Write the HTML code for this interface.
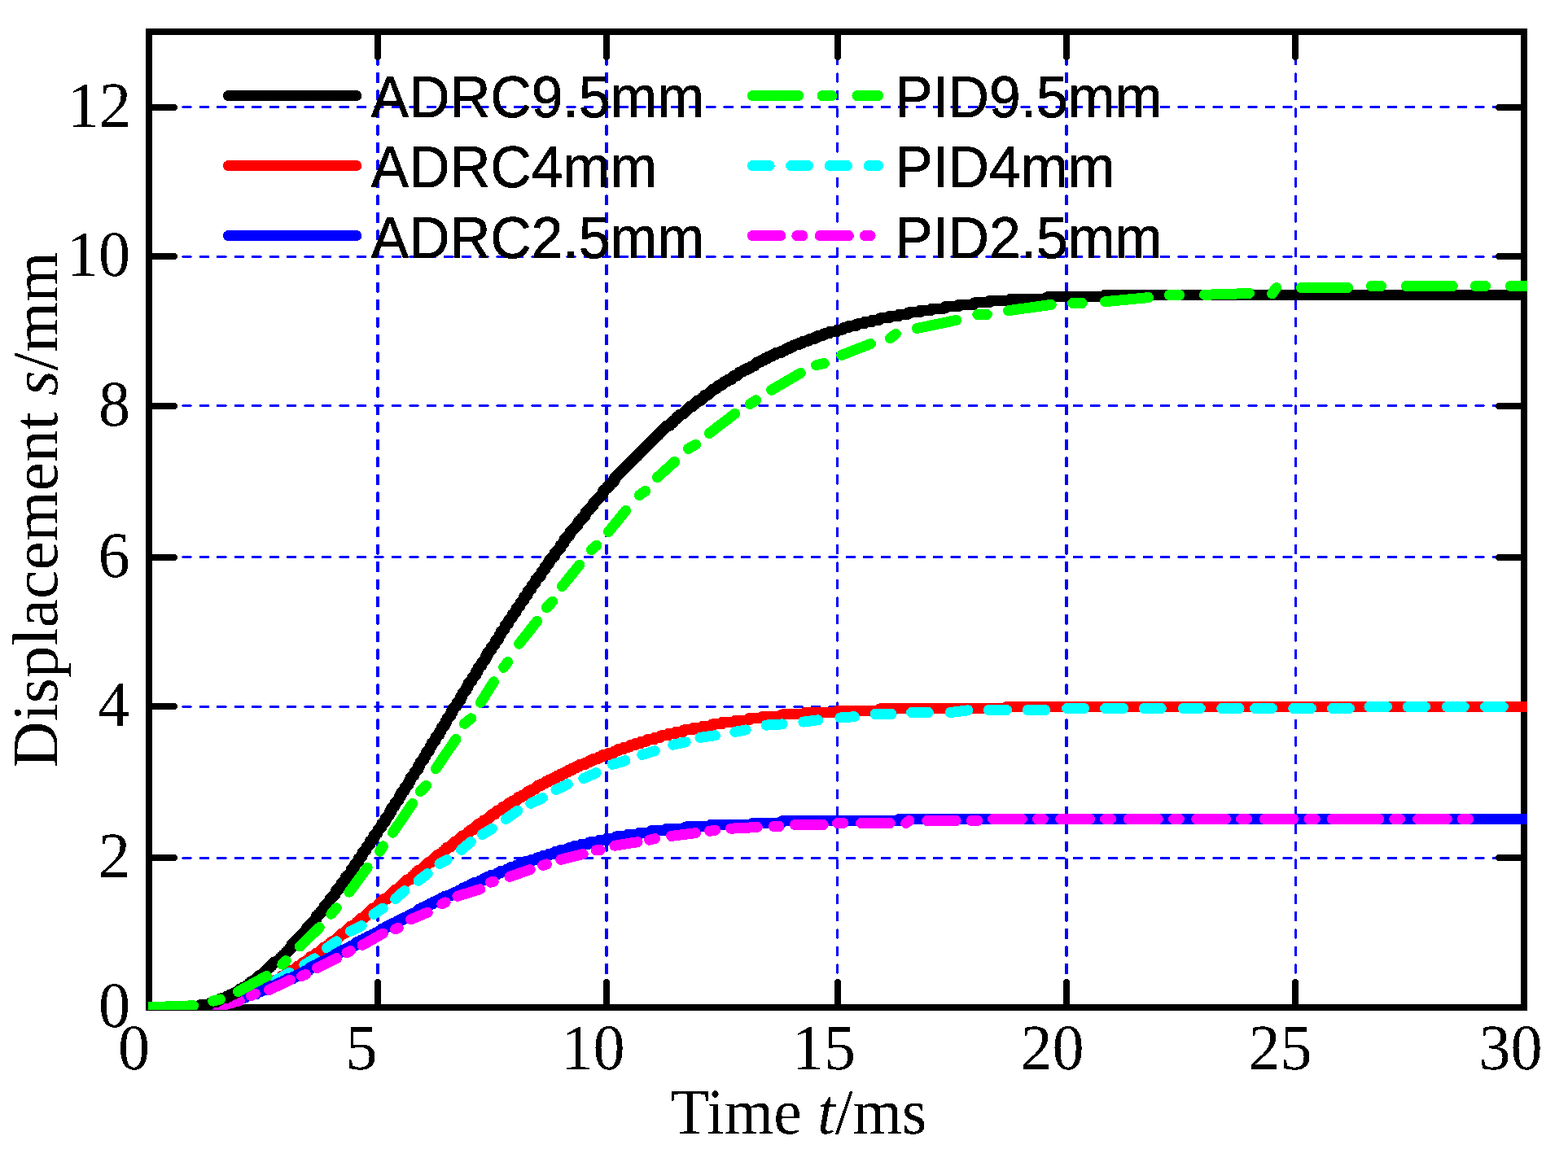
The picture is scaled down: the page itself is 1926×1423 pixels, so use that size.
<!DOCTYPE html>
<html lang="en"><head><meta charset="utf-8"><title>Displacement vs time</title>
<style>html,body{margin:0;padding:0;background:#fff;overflow:hidden}svg{display:block}</style></head>
<body>
<svg width="1926" height="1423" viewBox="0 0 1926 1423" role="img" aria-label="Displacement versus time for ADRC and PID control">
<rect width="1926" height="1423" fill="#fff"/>
<defs><filter id="bw" x="-5%" y="-5%" width="110%" height="110%" color-interpolation-filters="sRGB"><feComponentTransfer><feFuncA type="discrete" tableValues="0 1"/></feComponentTransfer></filter><clipPath id="cp"><rect x="182" y="35" width="1694" height="1206"/></clipPath></defs>
<path d="M181.8 131.5 H1868" stroke="#0000ff" stroke-width="3" fill="none" shape-rendering="crispEdges" stroke-linecap="round" stroke-dasharray="9.5 11.96" stroke-dashoffset="0"/>
<path d="M181.8 315.5 H1868" stroke="#0000ff" stroke-width="3" fill="none" shape-rendering="crispEdges" stroke-linecap="round" stroke-dasharray="9.5 11.96" stroke-dashoffset="0"/>
<path d="M181.8 498.5 H1868" stroke="#0000ff" stroke-width="3" fill="none" shape-rendering="crispEdges" stroke-linecap="round" stroke-dasharray="9.5 11.96" stroke-dashoffset="0"/>
<path d="M181.8 684.5 H1868" stroke="#0000ff" stroke-width="3" fill="none" shape-rendering="crispEdges" stroke-linecap="round" stroke-dasharray="9.5 11.96" stroke-dashoffset="0"/>
<path d="M181.8 868.5 H1868" stroke="#0000ff" stroke-width="3" fill="none" shape-rendering="crispEdges" stroke-linecap="round" stroke-dasharray="9.5 11.96" stroke-dashoffset="0"/>
<path d="M181.8 1054.5 H1868" stroke="#0000ff" stroke-width="3" fill="none" shape-rendering="crispEdges" stroke-linecap="round" stroke-dasharray="9.5 11.96" stroke-dashoffset="0"/>
<path d="M464 1238.2 V43" stroke="#0000ff" stroke-width="4" fill="none" shape-rendering="crispEdges" stroke-linecap="round" stroke-dasharray="9.5 11.97" stroke-dashoffset="0"/>
<path d="M745 1238.2 V43" stroke="#0000ff" stroke-width="4" fill="none" shape-rendering="crispEdges" stroke-linecap="round" stroke-dasharray="9.5 11.97" stroke-dashoffset="0"/>
<path d="M1028.5 1238.2 V43" stroke="#0000ff" stroke-width="3" fill="none" shape-rendering="crispEdges" stroke-linecap="round" stroke-dasharray="9.5 11.97" stroke-dashoffset="0"/>
<path d="M1310 1238.2 V43" stroke="#0000ff" stroke-width="4" fill="none" shape-rendering="crispEdges" stroke-linecap="round" stroke-dasharray="9.5 11.97" stroke-dashoffset="0"/>
<path d="M1591.5 1238.2 V43" stroke="#0000ff" stroke-width="3" fill="none" shape-rendering="crispEdges" stroke-linecap="round" stroke-dasharray="9.5 11.97" stroke-dashoffset="0"/>
<g stroke="#000" stroke-width="8" fill="none" shape-rendering="crispEdges">
<rect x="183.0" y="39.0" width="1689.0" height="1199.0"/>
</g>
<g stroke="#000" stroke-width="8" fill="none" stroke-linecap="round" shape-rendering="crispEdges">
<path d="M183.0 132 h31 M1872.0 132 h-31 M183.0 315 h31 M1872.0 315 h-31 M183.0 499 h31 M1872.0 499 h-31 M183.0 685 h31 M1872.0 685 h-31 M183.0 868 h31 M1872.0 868 h-31 M183.0 1054 h31 M1872.0 1054 h-31 M464 39.0 v31 M464 1238.0 v-31 M745 39.0 v31 M745 1238.0 v-31 M1029 39.0 v31 M1029 1238.0 v-31 M1310 39.0 v31 M1310 1238.0 v-31 M1591 39.0 v31 M1591 1238.0 v-31"/>
</g>
<g clip-path="url(#cp)" fill="none" stroke-linejoin="round" stroke-linecap="round" shape-rendering="crispEdges" stroke-width="13">
<path stroke="#ff0000" stroke-linecap="butt" d="M183 1238H260.95V1234.61H270.39V1232.25H277.48V1229.89H284.57V1227.52H291.65V1225.16H296.38V1222.8H301.1V1220.44H308.19V1218.08H312.91V1215.71H320V1213.35H324.72V1210.99H329.44V1208.63H334.17V1206.27H338.89V1203.9H343.62V1201.54H345.98V1199.18H350.7V1196.82H355.43V1194.46H357.79V1192.09H362.51V1189.73H364.87V1187.37H369.6V1185.01H371.96V1182.65H376.68V1180.28H379.05V1177.92H381.41V1175.56H386.13V1173.2H388.49V1170.84H393.22V1168.47H395.58V1166.11H397.94V1163.75H402.67V1161.39H405.03V1159.03H407.39V1156.66H412.11V1154.3H414.48V1151.94H416.84V1149.58H419.2V1147.22H423.92V1144.85H426.29V1142.49H428.65V1140.13H431.01V1137.77H435.73V1135.41H438.1V1133.04H440.46V1130.68H442.82V1128.32H447.54V1125.96H449.91V1123.6H452.27V1121.23H454.63V1118.87H456.99V1116.51H461.72V1114.15H464.08V1111.79H466.44V1109.42H468.8V1107.06H471.16V1104.7H475.89V1102.34H478.25V1099.98H480.61V1097.61H482.97V1095.25H485.34V1092.89H490.06V1090.53H492.42V1088.17H494.78V1085.8H497.15V1083.44H499.51V1081.08H504.23V1078.72H506.59V1076.36H508.96V1073.99H511.32V1071.63H513.68V1069.27H518.4V1066.91H520.77V1064.55H523.13V1062.18H525.49V1059.82H530.21V1057.46H532.58V1055.1H534.94V1052.74H537.3V1050.37H542.02V1048.01H544.39V1045.65H546.75V1043.29H549.11V1040.93H553.83V1038.56H556.2V1036.2H558.56V1033.84H563.28V1031.48H565.64V1029.12H568.01V1026.75H572.73V1024.39H575.09V1022.03H577.45V1019.67H582.18V1017.31H584.54V1014.94H586.9V1012.58H591.63V1010.22H593.99V1007.86H598.71V1005.5H601.07V1003.13H603.44V1000.77H608.16V998.41H610.52V996.05H615.25V993.69H617.61V991.32H622.33V988.96H624.69V986.6H629.42V984.24H634.14V981.88H636.5V979.51H641.23V977.15H645.95V974.79H648.31V972.43H653.04V970.07H657.76V967.7H660.12V965.34H664.85V962.98H669.57V960.62H674.3V958.26H679.02V955.89H683.74V953.53H688.47V951.17H693.19V948.81H697.92V946.45H702.64V944.08H707.36V941.72H712.09V939.36H719.17V937H723.9V934.64H728.62V932.27H735.71V929.91H740.43V927.55H747.52V925.19H754.6V922.83H759.33V920.46H766.41V918.1H773.5V915.74H780.59V913.38H787.67V911.02H794.76V908.65H804.21V906.29H811.29V903.93H820.74V901.57H830.19V899.21H839.64V896.84H851.45V894.48H863.26V892.12H875.07V889.76H886.88V887.4H903.41V885.03H919.94V882.67H936.48V880.31H960.1V877.95H988.44V875.59H1028.6V873.22H1080.56V870.86H1236.45V868.5H1878.92"/>
<path stroke="#00ffff" d="M183 1238L204 1238M230.5 1238.5L250 1238.5M274 1234.3L289 1228.6M307.3 1220.4L321.3 1213.4M339 1204.5L355.5 1195.3M373.8 1185.5L386.6 1177.9M401.7 1164.9L413.5 1156.8M430.5 1144.3L444.2 1137.6M459 1123.4L470.2 1116.1M485.6 1104.5L497 1094.6M514 1082.3L525.2 1073.7M540 1061.4L549.3 1056.6M566.6 1044.4L578.4 1034.5M592.5 1025.4L604.5 1018.2M621.4 1006.5L635.8 996.2M651.9 987.4L666.4 980.5M683 970.4L697.3 963.7M716.9 956.5L732.1 949.8M752.3 939.3L767.9 934.8M788.7 927.5L804.2 922.8M826.8 915.2L842.1 911.9M860 906.4L878.3 903.8M902.8 899.4L916.1 896.9M941 891.1L961.1 889.9M986.8 887.1L1004.7 884.8M1031.9 882L1049.4 880.7M1075 877.5L1095.2 877.5M1119.6 875.5L1140.3 875.5M1167.2 875.6L1188.9 872.8M1214.4 872.5L1236.5 872.5M1262.4 872.5L1283.8 872.5M1310.6 870.5L1331.6 870.5M1357.6 870.5L1379.7 870.5M1405.5 870.5L1426.3 870.5M1453.4 870.5L1474.4 870.5M1500.7 870.5L1522.2 870.5M1541.6 870.5L1562.5 870.5M1588.8 870.5L1610.5 870.5M1636.6 870.5L1657.5 870.5M1681.9 868.5L1703.5 868.5M1729.5 868.5L1750.5 868.5M1777.3 868.5L1798.4 868.5M1824.6 868.5L1846.4 868.5"/>
<path stroke="#0000ff" stroke-linecap="butt" d="M183 1238H263.31V1235.61H275.12V1233.25H282.2V1230.89H289.29V1228.53H294.01V1226.17H301.1V1223.8H308.19V1221.44H315.27V1219.08H320V1216.72H327.08V1214.36H331.81V1211.99H338.89V1209.63H343.62V1207.27H348.34V1204.91H353.06V1202.55H360.15V1200.18H364.87V1197.82H369.6V1195.46H374.32V1193.1H379.05V1190.74H381.41V1188.37H386.13V1186.01H390.86V1183.65H395.58V1181.29H400.3V1178.93H405.03V1176.56H409.75V1174.2H412.11V1171.84H416.84V1169.48H421.56V1167.12H426.29V1164.75H431.01V1162.39H435.73V1160.03H438.1V1157.67H442.82V1155.31H447.54V1152.94H452.27V1150.58H456.99V1148.22H461.72V1145.86H466.44V1143.5H468.8V1141.13H473.53V1138.77H478.25V1136.41H482.97V1134.05H487.7V1131.69H492.42V1129.32H497.15V1126.96H501.87V1124.6H506.59V1122.24H511.32V1119.88H513.68V1117.51H518.4V1115.15H523.13V1112.79H527.85V1110.43H532.58V1108.07H537.3V1105.7H542.02V1103.34H546.75V1100.98H553.83V1098.62H558.56V1096.26H563.28V1093.89H568.01V1091.53H572.73V1089.17H577.45V1086.81H582.18V1084.45H589.26V1082.08H593.99V1079.72H598.71V1077.36H603.44V1075H610.52V1072.64H615.25V1070.27H622.33V1067.91H627.06V1065.55H634.14V1063.19H638.87V1060.83H645.95V1058.46H653.04V1056.1H660.12V1053.74H667.21V1051.38H674.3V1049.02H681.38V1046.65H688.47V1044.29H697.92V1041.93H705V1039.57H714.45V1037.21H723.9V1034.84H735.71V1032.48H745.16V1030.12H756.97V1027.76H771.14V1025.4H785.31V1023.03H799.48V1020.67H818.38V1018.31H842V1015.95H872.7V1013.59H924.67V1011.22H960.1V1008.86H1104.18V1006.5H1878.92"/>
<path stroke="#ff00ff" d="M183 1238L219.6 1238M238.6 1238L245.6 1238M267 1237.3L294.4 1229.6M308.4 1223.5L313.4 1221.1M330.6 1216.4L356.4 1204.3M370.6 1199.5L375.6 1197.4M389.6 1189.4L413.5 1177.6M426 1170.7L430.4 1168.5M445.1 1161.4L470.2 1147.1M485.6 1141.8L489.2 1140.1M504.6 1129.8L525.2 1121.1M542.9 1111L547.1 1108.9M561.9 1101.3L589.7 1092.7M602.6 1084.2L606.2 1083.2M626 1077.3L651.2 1068.6M666.7 1063.3L671.3 1062M688.8 1056.3L716.2 1049.4M732.1 1044.7L737.3 1044.5M755 1039.2L783.1 1034.7M797.6 1032.2L804.5 1030.5M824.6 1027.4L854.4 1023.6M871.6 1021.2L878.4 1020.4M897.7 1018.2L930.2 1016.5M950.5 1015.5L957 1015.5M976.4 1013.5L1011.3 1013.5M1028.6 1011.5L1035.6 1011.5M1057.6 1011.5L1093.3 1011.5M1112.7 1011.5L1116.9 1008.4M1138.8 1008.5L1174.1 1008.5M1193.4 1008.5L1200.7 1008.5M1219.6 1006.5L1255.3 1006.5M1274.6 1006.5L1281.4 1006.5M1302.7 1006.5L1338.7 1006.5M1357.6 1006.5L1364.5 1006.5M1386.4 1006.5L1422.3 1006.5M1441.6 1006.5L1448.4 1006.5M1469.7 1006.5L1505.7 1006.5M1524.6 1006.5L1531.5 1006.5M1553.4 1006.5L1588.6 1006.5M1608 1006.5L1615.3 1006.5M1636.5 1006.5L1693.6 1006.5M1712.8 1006.5L1719.5 1006.5M1741.6 1006.5L1777.3 1006.5M1796.5 1006.5L1803.6 1006.5"/>
<path stroke="#000" stroke-linecap="butt" d="M183 1238H223.15V1238H246.77V1234.08H258.58V1231.72H265.67V1229.35H270.39V1226.99H277.48V1224.63H282.2V1222.27H286.93V1219.91H291.65V1217.54H294.01V1215.18H298.74V1212.82H303.46V1210.46H305.82V1208.1H308.19V1205.73H312.91V1203.37H315.27V1201.01H317.63V1198.65H322.36V1196.29H324.72V1193.92H327.08V1191.56H329.44V1189.2H331.81V1186.84H334.17V1184.48H336.53V1182.11H341.25V1179.75H343.62V1177.39H345.98V1175.03H348.34V1172.67H350.7V1170.3H353.06V1167.94H355.43V1165.58H357.79V1160.86H360.15V1158.49H362.51V1156.13H364.87V1153.77H367.24V1151.41H369.6V1149.05H371.96V1146.68H374.32V1144.32H376.68V1139.6H379.05V1137.24H381.41V1134.87H383.77V1132.51H386.13V1130.15H388.49V1125.43H390.86V1123.06H393.22V1120.7H395.58V1118.34H397.94V1113.62H400.3V1111.25H402.67V1108.89H405.03V1104.17H407.39V1101.81H409.75V1099.44H412.11V1094.72H414.48V1092.36H416.84V1090H419.2V1085.27H421.56V1082.91H423.92V1078.19H426.29V1075.82H428.65V1073.46H431.01V1068.74H433.37V1066.38H435.73V1061.65H438.1V1059.29H440.46V1054.57H442.82V1052.2H445.18V1047.48H447.54V1045.12H449.91V1040.39H452.27V1038.03H454.63V1033.31H456.99V1030.95H459.35V1026.22H461.72V1023.86H464.08V1019.14H466.44V1016.77H468.8V1012.05H471.16V1009.69H473.53V1004.96H475.89V1002.6H478.25V997.88H480.61V993.15H482.97V990.79H485.34V986.07H487.7V983.71H490.06V978.98H492.42V974.26H494.78V971.9H497.15V967.17H499.51V964.81H501.87V960.09H504.23V955.36H506.59V953H508.96V948.28H511.32V945.91H513.68V941.19H516.04V936.47H518.4V934.1H520.77V929.38H523.13V924.66H525.49V922.29H527.85V917.57H530.21V912.85H532.58V910.48H534.94V905.76H537.3V903.4H539.66V898.67H542.02V893.95H544.39V891.59H546.75V886.86H549.11V882.14H551.47V879.78H553.83V875.05H556.2V870.33H558.56V867.97H560.92V863.24H563.28V860.88H565.64V856.16H568.01V851.43H570.37V849.07H572.73V844.35H575.09V839.62H577.45V837.26H579.82V832.54H582.18V830.18H584.54V825.45H586.9V820.73H589.26V818.37H591.63V813.64H593.99V811.28H596.35V806.56H598.71V801.83H601.07V799.47H603.44V794.75H605.8V792.38H608.16V787.66H610.52V785.3H612.88V780.57H615.25V775.85H617.61V773.49H619.97V768.76H622.33V766.4H624.69V761.68H627.06V759.32H629.42V754.59H631.78V752.23H634.14V747.51H636.5V745.14H638.87V740.42H641.23V738.06H643.59V733.33H645.95V730.97H648.31V726.25H650.68V723.89H653.04V719.16H655.4V716.8H657.76V712.08H660.12V709.71H662.49V707.35H664.85V702.63H667.21V700.27H669.57V695.54H671.93V693.18H674.3V688.46H676.66V686.09H679.02V683.73H681.38V679.01H683.74V676.65H686.11V674.28H688.47V669.56H690.83V667.2H693.19V662.47H695.55V660.11H697.92V657.75H700.28V653.03H702.64V650.66H705V648.3H707.36V645.94H709.73V641.22H712.09V638.85H714.45V636.49H716.81V634.13H719.17V629.41H721.54V627.04H723.9V624.68H726.26V622.32H728.62V617.6H730.98V615.23H733.35V612.87H735.71V610.51H738.07V608.15H740.43V603.42H742.79V601.06H745.16V598.7H747.52V596.34H749.88V593.98H752.24V591.61H754.6V586.89H756.97V584.53H759.33V582.17H761.69V579.8H764.05V577.44H766.41V575.08H768.78V572.72H771.14V570.36H773.5V567.99H775.86V565.63H778.22V563.27H780.59V560.91H782.95V558.55H785.31V556.18H787.67V553.82H790.03V551.46H792.4V549.1H794.76V546.74H797.12V544.37H799.48V542.01H801.84V539.65H804.21V537.29H806.57V534.93H808.93V532.56H811.29V530.2H813.65V527.84H816.02V525.48H818.38V523.12H823.1V520.75H825.46V518.39H827.83V516.03H830.19V513.67H832.55V511.31H834.91V508.94H839.64V506.58H842V504.22H844.36V501.86H846.72V499.5H851.45V497.13H853.81V494.77H856.17V492.41H860.89V490.05H863.26V487.69H865.62V485.32H870.34V482.96H872.7V480.6H875.07V478.24H879.79V475.88H882.15V473.51H886.88V471.15H889.24V468.79H893.96V466.43H898.69V464.07H901.05V461.7H905.77V459.34H908.13V456.98H912.86V454.62H917.58V452.26H922.31V449.89H927.03V447.53H929.39V445.17H934.12V442.81H938.84V440.45H943.56V438.08H948.29V435.72H953.01V433.36H960.1V431H964.82V428.64H969.55V426.27H974.27V423.91H981.36V421.55H986.08V419.19H993.17V416.83H1000.25V414.46H1004.98V412.1H1012.06V409.74H1019.15V407.38H1028.6V405.02H1035.68V402.65H1042.77V400.29H1052.22V397.93H1061.66V395.57H1071.11V393.21H1080.56V390.84H1092.37V388.48H1104.18V386.12H1115.99V383.76H1130.16V381.4H1144.33V379.03H1160.87V376.67H1177.4V374.31H1196.3V371.95H1215.19V369.59H1241.18V367.22H1286.05V364.86H1356.91V362.5H1878.92"/>
<path stroke="#00ff00" d="M183 1237.7L237.5 1235.8M261.5 1230.1L270.4 1228M292.6 1218.5L327.4 1199.5M346.7 1185.2L351.3 1180.6M368.5 1163L392.4 1139.6M406.8 1123.3L413.3 1115.7M429 1096.2L451.2 1066.1M466.6 1046.3L470.4 1039.8M482.4 1023.2L506.7 987.5M516.3 972.6L523.6 965.3M535.3 944.7L559.9 908.4M570.5 889.4L578.7 882.7M590.4 863.4L606.5 837.8M618.6 820.4L623.6 813.5M637.6 791.3L659.6 763.4M671.4 746.6L678.6 739.2M690.5 720.5L711.7 694.3M726.5 675.6L732.8 670.2M747.5 653.5L768.6 627.5M785.4 608.5L792.7 603.4M807.4 586.6L828.6 567.5M845.5 551.4L854.5 546.4M871.3 532.4L902.6 508.5M921.4 496.4L928.6 491.7M947.6 479.3L983.3 458.4M1002.4 448.7L1012.4 446.5M1033.7 436.4L1069.4 422.5M1093.5 415.6L1100.4 410.5M1126.4 403.5L1174.7 393.4M1200.7 386.5L1212.4 386.5M1238.5 381.7L1291.3 374.4M1317.6 372.5L1329.3 372.5M1357.4 370.7L1410.6 365.6M1436.5 362.5L1448.6 362.5M1479.4 362.3L1534.5 360.5M1562.6 360.8L1567.6 353.6M1598.3 353.5L1655.5 353.5M1684.5 351.5L1696.5 351.5M1727.5 351.5L1784.3 351.5M1812.5 351.5L1824.5 351.5M1855.3 351.5L1892 351.5"/>
</g>
<g fill="none" stroke-linecap="round" shape-rendering="crispEdges" stroke-width="13">
<path stroke="#000" d="M280.4 117.6 H437.8"/>
<path stroke="#ff0000" d="M280.4 203.6 H437.8"/>
<path stroke="#0000ff" d="M280.4 289.6 H437.8"/>
<path stroke="#00ff00" d="M924.4 117.6 H980.7 M1010 117.6 H1021.8 M1052.9 117.6 H1078.7"/>
<path stroke="#00ffff" d="M924.4 203.6 H945.2 M971.6 203.6 H992.6 M1019.2 203.6 H1040.4 M1067.2 203.6 H1078.7"/>
<path stroke="#ff00ff" d="M924.4 289.6 H958.8 M978.8 289.6 H985.9 M1007.2 289.6 H1042.4 M1062.4 289.6 H1069.1"/>
</g>
<g fill="#000" stroke="#000" stroke-width="0.6" filter="url(#bw)" font-family="'Liberation Sans', sans-serif" font-size="69.5" text-rendering="geometricPrecision">
<text transform="translate(455.8 143.9) scale(1 1.04)">ADRC9.5mm</text>
<text transform="translate(455.8 230.3) scale(1 1.04)">ADRC4mm</text>
<text transform="translate(455.8 316.5) scale(1 1.04)">ADRC2.5mm</text>
<text transform="translate(1099.2 143.9) scale(1 1.04)">PID9.5mm</text>
<text transform="translate(1099.2 230.3) scale(1 1.04)">PID4mm</text>
<text transform="translate(1099.2 316.5) scale(1 1.04)">PID2.5mm</text>
</g>
<g fill="#000" filter="url(#bw)" font-family="'Liberation Serif', serif" font-size="78.2" text-rendering="geometricPrecision">
<text transform="translate(83 155.9) scale(1 1.02)">12</text>
<text transform="translate(82 338.8) scale(1 1.02)">10</text>
<text transform="translate(121 522.9) scale(1 1.02)">8</text>
<text transform="translate(120.5 708.9) scale(1 1.02)">6</text>
<text transform="translate(120 891.9) scale(1 1.02)">4</text>
<text transform="translate(121 1077.8) scale(1 1.02)">2</text>
<text transform="translate(121 1261.8) scale(1 1.02)">0</text>
<text transform="translate(145 1313.8) scale(1 1.02)">0</text>
<text transform="translate(424.5 1313.8) scale(1 1.02)">5</text>
<text transform="translate(689.5 1313.8) scale(1 1.02)">10</text>
<text transform="translate(973 1313.8) scale(1 1.02)">15</text>
<text transform="translate(1253.5 1313.8) scale(1 1.02)">20</text>
<text transform="translate(1533.5 1313.8) scale(1 1.02)">25</text>
<text transform="translate(1816.5 1313.8) scale(1 1.02)">30</text>
<text transform="translate(823.4 1393) scale(0.995 1.02)">Time <tspan font-style="italic">t</tspan>/ms</text>
<text transform="translate(70.7 943.7) rotate(-90) scale(1.018 1.02)">Displacement <tspan font-style="italic">s</tspan>/mm</text>
</g>
</svg>
</body></html>
